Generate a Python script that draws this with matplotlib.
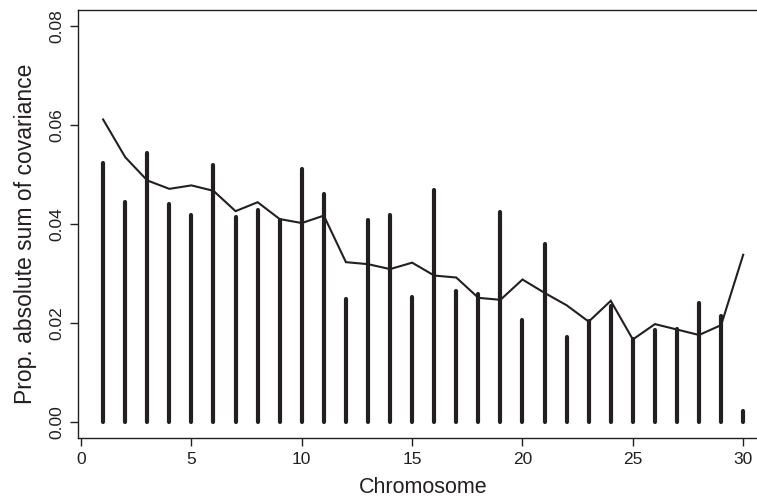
import matplotlib
matplotlib.use("Agg")
import matplotlib.pyplot as plt

plt.rcParams['font.family'] = ['Liberation Sans', 'DejaVu Sans']

chromosomes = list(range(1, 31))
# per-chromosome proportion (vertical spikes)
spike_values = [0.0523, 0.0444, 0.0543, 0.0440, 0.0419, 0.0520, 0.0414, 0.0428,
                0.0408, 0.0512, 0.0461, 0.0248, 0.0408, 0.0418, 0.0253, 0.0468,
                0.0264, 0.0258, 0.0425, 0.0207, 0.0359, 0.0172, 0.0204, 0.0234,
                0.0167, 0.0187, 0.0189, 0.0241, 0.0215, 0.0022]
# expected proportion (line)
line_values = [0.0611, 0.0535, 0.0488, 0.0471, 0.0478, 0.0467, 0.0426, 0.0444,
               0.0410, 0.0402, 0.0417, 0.0323, 0.0319, 0.0309, 0.0322, 0.0296,
               0.0292, 0.0251, 0.0247, 0.0288, 0.0261, 0.0236, 0.0203, 0.0245,
               0.0167, 0.0198, 0.0187, 0.0176, 0.0196, 0.0338]
x_ticks = [0, 5, 10, 15, 20, 25, 30]
y_ticks = [0.00, 0.02, 0.04, 0.06, 0.08]

ink = '#231f20'

fig = plt.figure(figsize=(7.57, 4.99), dpi=100)
ax = fig.add_axes([0.1030, 0.1222, 0.9126, 0.8577])

ax.vlines(chromosomes, 0, spike_values, colors=ink, linewidth=3.0, capstyle='round')
ax.plot(chromosomes, line_values, color=ink, linewidth=1.5, solid_joinstyle='miter')

ax.set_xlim(-0.14, 31.16)
ax.set_ylim(-0.0032, 0.0832)
ax.set_xticks(x_ticks)
ax.set_xticklabels([str(t) for t in x_ticks])
ax.set_yticks(y_ticks)
ax.set_yticklabels([f"{t:.2f}" for t in y_ticks], rotation=90, va='center')

for side in ['left', 'bottom', 'top', 'right']:
    ax.spines[side].set_color(ink)
    ax.spines[side].set_linewidth(1.0)

ax.tick_params(axis='both', direction='out', length=6, width=1.0, color=ink,
               labelsize=12.5, labelcolor=ink, pad=4)

ax.set_xlabel('Chromosome', fontsize=15.5, color=ink, labelpad=7)
ax.set_ylabel('Prop. absolute sum of covariance', fontsize=16.5, color=ink)
ax.yaxis.set_label_coords(-0.059, 0.477)

fig.savefig('out.png', dpi=100)
